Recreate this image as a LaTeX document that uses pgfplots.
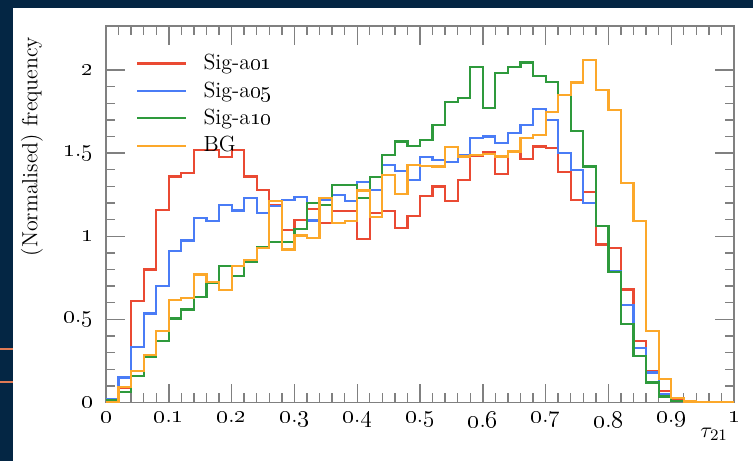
\documentclass[border=0pt]{standalone}
\usepackage{pgfplots}
\usepackage{pgfplotstable}
\pgfplotsset{compat=1.18}
\definecolor{navy}{HTML}{042644}
\definecolor{slideorange}{HTML}{E07A55}
\definecolor{rivred}{HTML}{EA4A33}
\definecolor{rivblue}{HTML}{4A7CF6}
\definecolor{rivgreen}{HTML}{2E9A3C}
\definecolor{rivorange}{HTML}{FCA82A}
\newcommand\os[1]{\oldstylenums{#1}}

\pgfplotstableread{
x     r      b      g      o
0.00  0.010  0.020  0.015  0.005
0.02  0.090  0.150  0.062  0.095
0.04  0.610  0.335  0.160  0.190
0.06  0.800  0.535  0.275  0.285
0.08  1.160  0.700  0.370  0.430
0.10  1.360  0.910  0.505  0.615
0.12  1.380  0.975  0.560  0.630
0.14  1.520  1.110  0.635  0.770
0.16  1.520  1.090  0.720  0.725
0.18  1.475  1.190  0.820  0.675
0.20  1.520  1.155  0.760  0.820
0.22  1.360  1.230  0.845  0.855
0.24  1.280  1.140  0.935  0.930
0.26  1.185  1.180  0.965  1.210
0.28  1.040  1.220  0.965  0.920
0.30  1.100  1.235  1.045  1.005
0.32  1.165  1.095  1.200  0.990
0.34  1.080  1.220  1.190  1.230
0.36  1.150  1.250  1.310  1.080
0.38  1.150  1.210  1.310  1.090
0.40  0.985  1.325  1.230  1.275
0.42  1.140  1.280  1.355  1.115
0.44  1.150  1.430  1.490  1.370
0.46  1.050  1.395  1.570  1.255
0.48  1.120  1.340  1.545  1.430
0.50  1.240  1.475  1.580  1.425
0.52  1.300  1.460  1.670  1.420
0.54  1.210  1.445  1.810  1.535
0.56  1.340  1.490  1.830  1.480
0.58  1.485  1.590  2.020  1.490
0.60  1.505  1.600  1.770  1.495
0.62  1.375  1.560  1.980  1.480
0.64  1.510  1.620  2.020  1.510
0.66  1.465  1.670  2.045  1.590
0.68  1.540  1.766  1.965  1.610
0.70  1.530  1.700  1.930  1.750
0.72  1.385  1.500  1.850  1.850
0.74  1.220  1.400  1.635  1.925
0.76  1.265  1.200  1.420  2.060
0.78  0.950  1.060  1.060  1.880
0.80  0.930  0.790  0.785  1.760
0.82  0.680  0.585  0.470  1.320
0.84  0.370  0.330  0.280  1.090
0.86  0.190  0.180  0.120  0.430
0.88  0.068  0.048  0.036  0.140
0.90  0.012  0.010  0.008  0.025
0.92  0.003  0.002  0.002  0.006
0.94  0.000  0.000  0.000  0.003
0.96  0.000  0.000  0.000  0.000
0.98  0.000  0.000  0.000  0.000
1.00  0.000  0.000  0.000  0.000
}\histdata

\begin{document}
\begin{tikzpicture}
\useasboundingbox (0,0) rectangle (376.5bp,230.5bp);
\fill[navy] (0,0) rectangle (376.5bp,230.5bp);
\fill[white] (6.5bp,0) rectangle (376.5bp,226.5bp);
\draw[slideorange, line width=1bp] (0,56bp) -- (6.5bp,56bp);
\draw[slideorange, line width=1bp] (0,39.5bp) -- (6.5bp,39.5bp);
\begin{axis}[
  at={(53bp,29.25bp)}, anchor=south west,
  width=314bp, height=188.25bp, scale only axis,
  xmin=0, xmax=1, ymin=0, ymax=2.265,
  xtick={0,0.1,...,1.0},
  xticklabels={{\os{0}},{\os{0}.\os{1}},{\os{0}.\os{2}},{\os{0}.\os{3}},{\os{0}.\os{4}},{\os{0}.\os{5}},{\os{0}.\os{6}},{\os{0}.\os{7}},{\os{0}.\os{8}},{\os{0}.\os{9}},{\os{1}}},
  ytick={0,0.5,1,1.5,2},
  yticklabels={{\os{0}},{\os{0}.\os{5}},{\os{1}},{\os{1}.\os{5}},{\os{2}}},
  minor x tick num=4, minor y tick num=4,
  tick align=inside,
  xtick pos=both, ytick pos=both,
  major tick length=9.5bp, minor tick length=4.75bp,
  axis line style={black!50, line width=0.8bp},
  every tick/.style={black!50, line width=0.7bp},
  tick label style={font=\fontsize{11.5}{13}\selectfont},
  yticklabel style={xshift=-3bp},
  xticklabel style={yshift=-1.5bp},
  ylabel={(Normalised) frequency},
  ylabel style={at={(axis description cs:-0.118,0.99)}, anchor=east, font=\fontsize{11}{13}\selectfont},
  xlabel={$\tau_{21}$},
  xlabel style={at={(axis description cs:1,0)}, anchor=base east, xshift=0.5bp, yshift=-17.5bp, font=\fontsize{11}{13}\selectfont},
  legend style={at={(axis description cs:0,1)}, anchor=north west, xshift=12bp, yshift=-10bp,
    draw=none, fill=none, font=\fontsize{11}{13}\selectfont, row sep=0.5bp},
  legend cell align=left,
  legend image code/.code={\draw[#1] (0bp,0bp) -- (24.5bp,0bp); \path (30.5bp,0bp);},
  every axis plot/.append style={line width=1.1bp, const plot mark left, mark=none},
]
\addplot[rivred] table[x=x, y=r] {\histdata};
\addplot[rivblue] table[x=x, y=b] {\histdata};
\addplot[rivgreen] table[x=x, y=g] {\histdata};
\addplot[rivorange] table[x=x, y=o] {\histdata};
\legend{Sig-a\os{01}, Sig-a\os{05}, Sig-a\os{10}, BG}
\end{axis}
\end{tikzpicture}
\end{document}
